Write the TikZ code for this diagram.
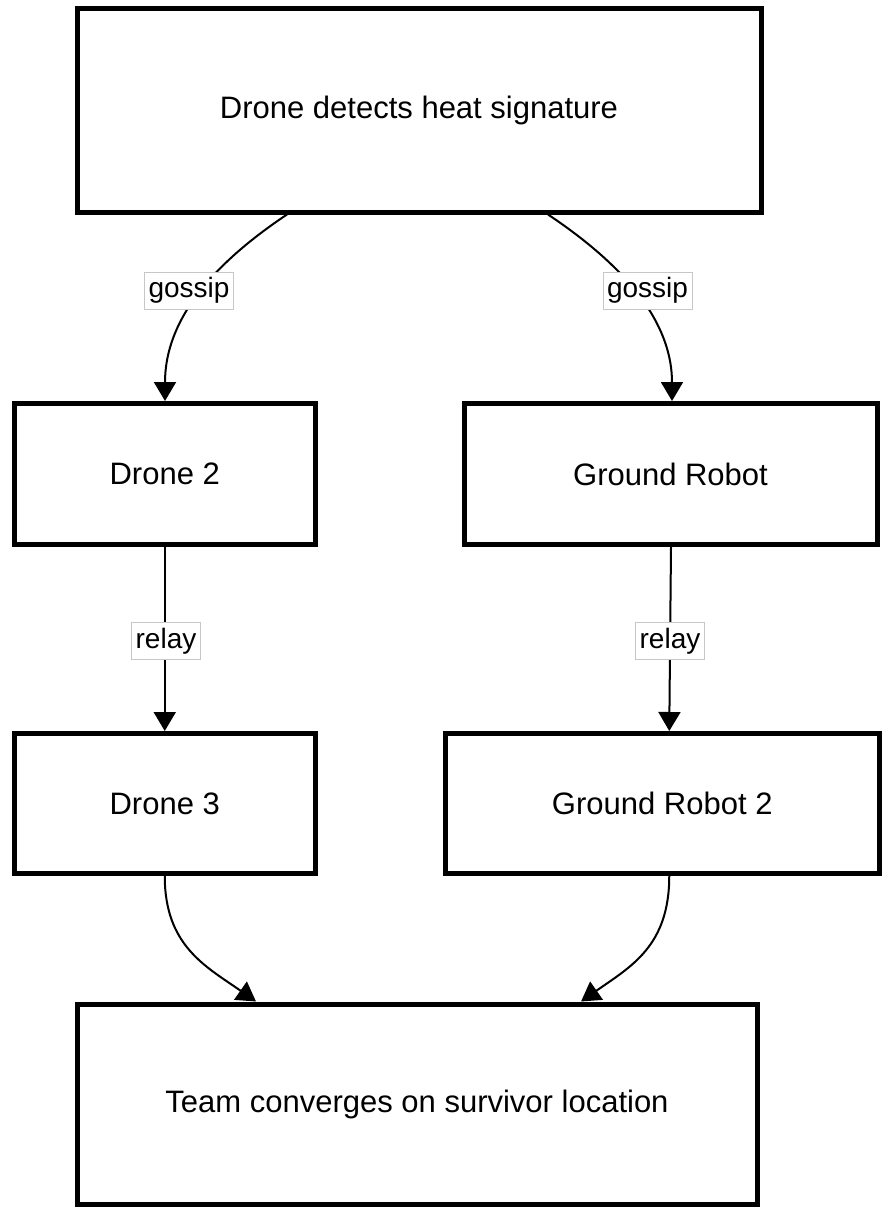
\documentclass[tikz,border=0pt]{standalone}
\usepackage{fontspec}
\setmainfont{Liberation Sans}
\usetikzlibrary{arrows.meta}
\begin{document}
\begin{tikzpicture}[x=1pt,y=-1pt,
  box/.style={draw=black, line width=5pt, fill=white, inner sep=0pt,
    font=\fontsize{31}{37}\selectfont},
  lbl/.style={draw=black!22, line width=0.8pt, fill=white, inner xsep=4pt,
    inner ysep=0pt, minimum height=37pt, font=\fontsize{28}{34}\selectfont},
  flow/.style={draw=black, line width=2pt, -{Triangle[length=19pt,width=22pt]}}]
\useasboundingbox (0,0) rectangle (883,1209);
\fill[white] (0,0) rectangle (883,1209);

% process boxes
\node[box, minimum width=684pt, minimum height=203pt] (A) at (419,110.5) {Drone detects heat signature};
\node[box, minimum width=300.5pt, minimum height=141pt] (B) at (164.75,474) {Drone 2};
\node[box, minimum width=413pt, minimum height=141pt] (C) at (670.5,474) {Ground Robot};
\node[box, minimum width=300.5pt, minimum height=140pt] (D) at (164.75,803.5) {Drone 3};
\node[box, minimum width=433.5pt, minimum height=140pt] (E) at (662.25,803.5) {Ground Robot 2};
\node[box, minimum width=680pt, minimum height=200pt] (F) at (417,1104) {Team converges on survivor location};

% connectors
\draw[flow] ([xshift=-132pt]A.south) .. controls +(-90,60) and +(0,-70) .. ([xshift=0.25pt]B.north);
\draw[flow] ([xshift=129pt]A.south) .. controls +(90,60) and +(0,-70) .. ([xshift=1.5pt]C.north);
\draw[flow] (B.south) -- (D.north);
\draw[flow] ([xshift=0.5pt]C.south) -- ([xshift=7pt]E.north);
\draw[flow] (D.south) .. controls +(0,70) and +(-50,-35) .. ([xshift=-161pt]F.north);
\draw[flow] ([xshift=7pt]E.south) .. controls +(0,70) and +(50,-35) .. ([xshift=164pt]F.north);

% connector labels
\node[lbl] (g1) at (189,290.5) {gossip};
\node[lbl] (g2) at (647.5,290.5) {gossip};
\node[lbl] (r1) at (166,641) {relay};
\node[lbl] (r2) at (670,641) {relay};
\end{tikzpicture}
\end{document}
